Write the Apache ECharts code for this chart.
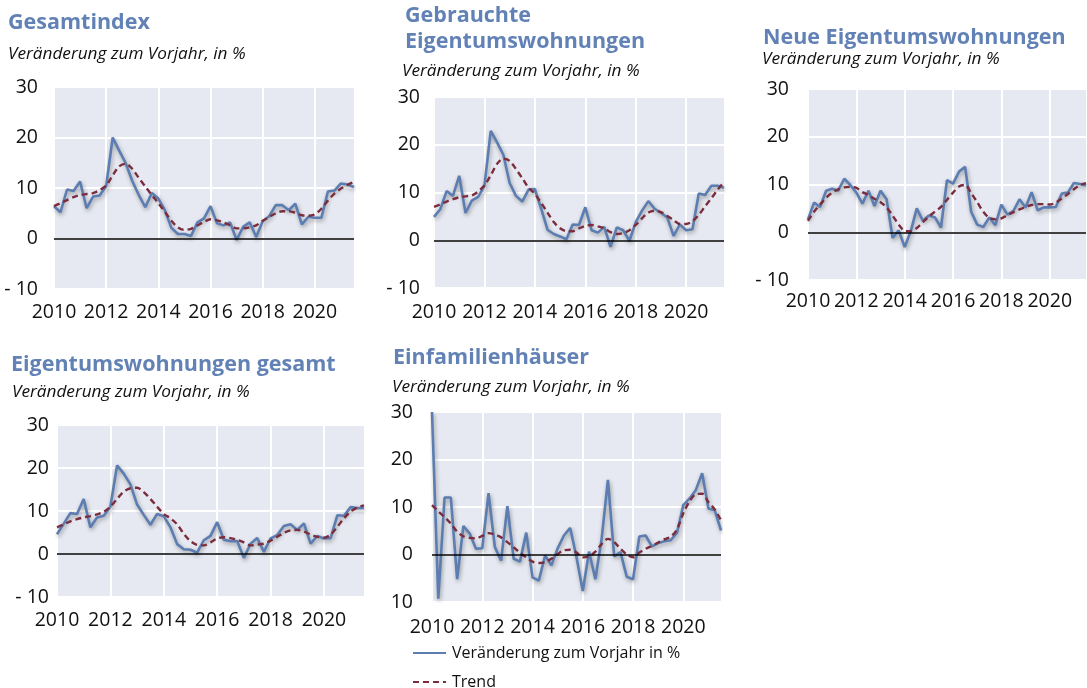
<!DOCTYPE html>
<html>
<head>
<meta charset="utf-8">
<script src="https://cdn.jsdelivr.net/npm/echarts@6/dist/echarts.min.js"></script>
<style>
  html, body { margin: 0; padding: 0; background: #fff; }
  #main { width: 1087px; height: 688px; }
</style>
</head>
<body>
<div id="main"></div>
<script>
// Quartale 2010Q1 .. 2021Q3
const quarters = [];
for (let y = 2010; y <= 2021; y++) {
  for (let q = 1; q <= 4; q++) {
    if (y === 2021 && q === 4) break;
    quarters.push(y + 'Q' + q);
  }
}

// Gesamtindex
const gesamtVal = [6.4, 5.2, 9.7, 9.4, 11.3, 6.0, 8.3, 8.5, 10.4, 20.0, 17.4, 14.9, 11.4, 8.6, 6.2, 9.0, 7.9, 5.6, 2.1, 0.9, 0.9, 0.5, 3.2, 4.0, 6.4, 3.0, 2.6, 3.2, -0.3, 2.3, 3.2, 0.3, 3.4, 4.4, 6.6, 6.6, 5.6, 6.9, 2.8, 4.3, 4.1, 4.1, 9.3, 9.5, 10.9, 10.7, 10.2];
const gesamtTrend = [6.4, 7.0, 7.6, 8.2, 8.6, 8.8, 9.0, 9.6, 10.5, 12.5, 14.3, 14.8, 13.8, 12.0, 10.3, 8.6, 7.0, 5.3, 3.5, 2.2, 1.7, 1.9, 2.6, 3.3, 3.8, 3.6, 3.2, 2.6, 2.0, 2.0, 2.2, 2.6, 3.5, 4.3, 5.0, 5.4, 5.4, 5.1, 4.6, 4.5, 4.8, 5.9, 7.5, 8.9, 9.9, 10.6, 11.2];

// Gebrauchte Eigentumswohnungen
const gebrauchtVal = [4.9, 6.5, 10.3, 9.3, 13.5, 5.7, 8.3, 9.1, 11.4, 22.9, 20.5, 17.9, 12.0, 9.3, 8.1, 10.6, 10.7, 6.6, 2.2, 1.3, 0.8, 0.2, 3.3, 3.2, 6.9, 2.1, 1.6, 2.8, -1.4, 2.7, 2.1, -0.1, 3.8, 6.2, 8.2, 6.6, 5.7, 4.8, 0.9, 3.3, 2.1, 2.3, 9.8, 9.5, 11.4, 11.4, 11.0];
const gebrauchtTrend = [7.0, 7.5, 8.1, 8.6, 9.0, 9.2, 9.4, 10.2, 11.5, 13.6, 16.0, 17.1, 16.6, 14.9, 13.0, 11.0, 9.7, 7.8, 5.8, 3.8, 2.5, 1.9, 1.9, 2.5, 3.0, 3.2, 2.9, 2.5, 1.7, 1.3, 1.5, 2.1, 3.2, 4.6, 5.8, 6.2, 5.9, 5.1, 4.2, 3.4, 3.4, 4.0, 5.3, 7.1, 8.8, 10.6, 12.2];

// Neue Eigentumswohnungen
const neuVal = [2.7, 6.2, 5.3, 8.7, 9.1, 8.7, 11.2, 9.9, 8.3, 6.0, 8.7, 5.5, 8.7, 6.9, -1.2, 0.4, -3.1, 0.2, 5.0, 2.4, 3.5, 3.1, 1.0, 10.9, 10.2, 12.7, 13.7, 4.3, 1.6, 1.1, 3.1, 1.5, 5.8, 3.7, 4.5, 6.9, 5.2, 8.4, 4.6, 5.2, 5.2, 5.3, 8.1, 8.3, 10.3, 10.1, 9.8];
const neuTrend = [2.4, 4.3, 5.8, 7.2, 8.3, 9.0, 9.4, 9.5, 9.3, 8.4, 7.8, 7.0, 6.3, 5.2, 3.5, 1.6, 0.3, 0.2, 0.9, 2.1, 3.3, 4.3, 5.3, 6.8, 8.3, 9.6, 9.9, 8.2, 6.3, 4.3, 3.0, 2.7, 2.9, 3.6, 4.2, 4.8, 5.3, 5.7, 5.9, 5.9, 5.8, 6.2, 7.1, 8.0, 9.0, 9.9, 10.3];

// Eigentumswohnungen gesamt
const etwVal = [4.6, 7.0, 9.5, 9.3, 12.8, 6.2, 8.5, 8.9, 11.0, 20.6, 18.7, 16.2, 11.5, 9.1, 6.8, 9.3, 8.8, 6.2, 2.3, 1.1, 1.0, 0.3, 3.2, 4.2, 7.4, 3.3, 3.0, 3.0, -0.9, 2.4, 3.7, 0.5, 3.6, 4.4, 6.5, 6.9, 5.6, 7.1, 2.4, 4.2, 3.6, 3.7, 9.0, 8.9, 10.9, 10.7, 10.7];
const etwTrend = [6.2, 6.9, 7.6, 8.1, 8.5, 8.8, 9.2, 9.8, 11.0, 12.8, 14.5, 15.3, 15.4, 14.4, 12.8, 11.0, 9.3, 8.3, 6.9, 4.7, 3.0, 2.1, 2.0, 2.7, 3.6, 3.9, 3.7, 3.3, 2.7, 2.0, 2.2, 2.4, 3.1, 4.0, 4.9, 5.5, 5.6, 5.2, 4.5, 4.0, 3.8, 4.5, 6.3, 8.3, 9.9, 10.8, 11.3];

// Einfamilienhäuser
const efhVal = [30, -9.3, 12.0, 12.0, -5.2, 6.0, 4.4, 1.2, 1.3, 12.9, 1.6, -1.3, 10.2, -0.9, -1.5, 4.6, -4.8, -5.5, -0.2, -2.3, 1.3, 4.0, 5.6, -0.6, -7.7, 0.6, -5.2, 3.3, 15.7, -0.4, 0.5, -4.7, -5.2, 3.8, 4.0, 1.7, 2.4, 2.8, 3.0, 4.6, 10.4, 11.8, 13.6, 17.1, 9.7, 9.3, 5.1];
const efhTrend = [10.4, 9.1, 7.9, 6.5, 4.8, 3.8, 3.5, 3.4, 3.9, 4.5, 4.2, 3.6, 2.6, 1.5, 0.4, -0.6, -1.5, -1.8, -1.6, -0.9, 0.1, 0.9, 1.0, 0.4, -0.6, -0.4, 0.6, 2.2, 3.3, 2.6, 1.2, 0.0, -0.6, 0.4, 1.2, 1.8, 2.5, 3.2, 3.7, 5.3, 8.7, 11.2, 12.7, 12.8, 11.0, 9.5, 7.2];

const yTicks = [-10, 0, 10, 20, 30];
const subTitle = 'Veränderung zum Vorjahr, in %';
const nameVal = 'Veränderung zum Vorjahr in %';
const nameTrend = 'Trend';

const BLUE = '#5b7db1';
const RED = '#7b2d3d';
const TITLE = '#6282b6';
const FONT = '"Open Sans", Lato, sans-serif';

const panels = [
  { title: 'Gesamtindex', val: gesamtVal, trend: gesamtTrend,
    grid: { left: 54, top: 87, width: 300, height: 202 },
    tPos: [8, 10], sPos: [8, 46], yMargin: 16, xMargin: 13 },
  { title: 'Gebrauchte\nEigentumswohnungen', val: gebrauchtVal, trend: gebrauchtTrend,
    grid: { left: 434, top: 97, width: 290, height: 191 },
    tPos: [405, 3], sPos: [402, 63], yMargin: 14, xMargin: 14 },
  { title: 'Neue Eigentumswohnungen', val: neuVal, trend: neuTrend,
    grid: { left: 808, top: 89, width: 278, height: 191 },
    tPos: [763, 25], sPos: [762, 51], yMargin: 19, xMargin: 11 },
  { title: 'Eigentumswohnungen gesamt', val: etwVal, trend: etwTrend,
    grid: { left: 57, top: 425, width: 307, height: 172 },
    tPos: [11, 352], sPos: [12, 384], yMargin: 8, xMargin: 13 },
  { title: 'Einfamilienhäuser', val: efhVal, trend: efhTrend,
    grid: { left: 432, top: 412, width: 289, height: 190 },
    tPos: [393, 345], sPos: [392, 379], yMargin: 19, xMargin: 15, cutMinus: true }
];

const isYear = (i) => i % 8 === 0;

const legendBase = {
  orient: 'horizontal',
  left: 412,
  itemWidth: 33,
  itemHeight: 14,
  itemGap: 5,
  padding: 0,
  itemStyle: { opacity: 0 },
  textStyle: { fontFamily: FONT, fontSize: 16, color: '#111', padding: [0, 0, 0, 1] }
};

const option = {
  animation: false,
  backgroundColor: '#fff',
  title: [],
  grid: [],
  xAxis: [],
  yAxis: [],
  series: [],
  legend: [
    Object.assign({ data: [nameVal], top: 645 }, legendBase),
    Object.assign({ data: [nameTrend], top: 674 }, legendBase)
  ]
};

panels.forEach((p, k) => {
  option.title.push({
    text: p.title, left: p.tPos[0], top: p.tPos[1], padding: 0,
    textStyle: { fontFamily: FONT, fontWeight: 'bold', fontSize: 21.5, color: TITLE, lineHeight: 26 }
  });
  option.title.push({
    text: subTitle, left: p.sPos[0], top: p.sPos[1], padding: 0,
    textStyle: { fontFamily: FONT, fontStyle: 'italic', fontWeight: 'normal', fontSize: 17.2, color: '#111' }
  });
  option.grid.push(Object.assign({ show: true, backgroundColor: '#e6e9f1', borderWidth: 0 }, p.grid));
  option.xAxis.push({
    type: 'category', gridIndex: k, data: quarters, boundaryGap: false,
    axisLine: { show: false }, axisTick: { show: false },
    axisLabel: {
      interval: (i) => isYear(i), margin: p.xMargin,
      formatter: (v) => v.slice(0, 4),
      fontFamily: FONT, fontSize: 19.5, color: '#111'
    },
    splitLine: { show: true, interval: (i) => isYear(i), lineStyle: { color: '#fff', width: 2 } }
  });
  option.yAxis.push({
    type: 'value', gridIndex: k, min: yTicks[0], max: yTicks[yTicks.length - 1], interval: 10,
    axisLine: { show: false }, axisTick: { show: false },
    axisLabel: {
      margin: p.yMargin, fontFamily: FONT, fontSize: 19.5, color: '#111',
      formatter: (v) => v < 0 ? (p.cutMinus ? String(-v) : '- ' + (-v)) : String(v)
    },
    splitLine: { show: true, lineStyle: { color: '#fff', width: 2 } }
  });
  option.series.push({
    name: nameVal, type: 'line', xAxisIndex: k, yAxisIndex: k, data: p.val,
    symbol: 'none', z: 3,
    lineStyle: { color: BLUE, width: 2.6, shadowColor: 'rgba(0,0,0,0.35)', shadowBlur: 4, shadowOffsetX: 1, shadowOffsetY: 2 },
    itemStyle: { color: BLUE },
    markLine: {
      silent: true, symbol: 'none', label: { show: false },
      lineStyle: { color: '#000', type: 'solid', width: 1.5 },
      data: [{ yAxis: 0 }]
    }
  });
  option.series.push({
    name: nameTrend, type: 'line', xAxisIndex: k, yAxisIndex: k, data: p.trend,
    symbol: 'none', smooth: 0.3, z: 4,
    lineStyle: { color: RED, width: 2.4, type: [6, 4] },
    itemStyle: { color: RED }
  });
});

const chart = echarts.init(document.getElementById('main'));
chart.setOption(option);
</script>
</body>
</html>
